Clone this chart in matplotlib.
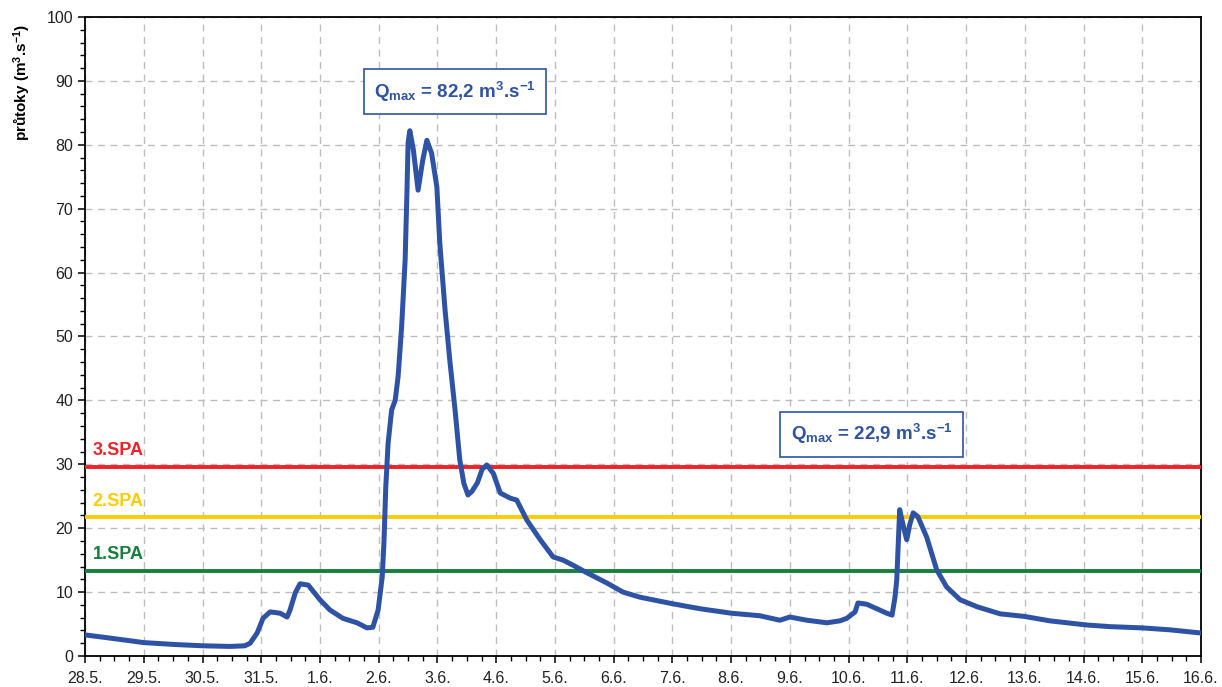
import matplotlib
matplotlib.use("Agg")
import matplotlib.pyplot as plt
from matplotlib.ticker import MultipleLocator, FixedLocator

plt.rcParams['font.family'] = ['Liberation Sans', 'DejaVu Sans']
plt.rcParams['mathtext.fontset'] = 'custom'
plt.rcParams['mathtext.rm'] = 'Liberation Sans'
plt.rcParams['mathtext.bf'] = 'Liberation Sans:bold'
plt.rcParams['mathtext.it'] = 'Liberation Sans:italic'

# Time in days counted from 28.5. 0:00, discharge in m3/s
days = [0.00, 0.26, 0.51, 1.00, 1.53, 2.01, 2.47, 2.72, 2.81, 2.93,
        3.03, 3.15, 3.32, 3.44, 3.49, 3.58, 3.66, 3.80, 4.00, 4.17,
        4.39, 4.63, 4.80, 4.90, 4.99, 5.06, 5.09, 5.12, 5.16, 5.22,
        5.28, 5.33, 5.39, 5.45, 5.48, 5.50, 5.53, 5.59, 5.67, 5.75,
        5.82, 5.90, 5.99, 6.04, 6.13, 6.21, 6.30, 6.38, 6.45, 6.52,
        6.59, 6.68, 6.76, 6.84, 6.95, 7.07, 7.24, 7.35, 7.52, 7.75,
        7.97, 8.14, 8.31, 8.55, 8.89, 9.16, 9.45, 9.99, 10.47, 11.00,
        11.49, 11.83, 12.00, 12.29, 12.63, 12.85, 12.97, 13.11, 13.16, 13.31,
        13.65, 13.74, 13.79, 13.82, 13.87, 13.94, 13.99, 14.04, 14.10, 14.18,
        14.33, 14.50, 14.67, 14.90, 15.19, 15.58, 15.99, 16.43, 17.06, 17.45,
        18.00, 18.47, 19.00]
flow = [3.3, 3.0, 2.7, 2.1, 1.8, 1.6, 1.5, 1.6, 2.0, 3.6,
        5.9, 6.9, 6.7, 6.1, 7.2, 9.9, 11.3, 11.1, 8.8, 7.2,
        5.9, 5.2, 4.4, 4.5, 7.2, 12.4, 18.0, 26.4, 33.3, 38.5,
        40.0, 43.7, 51.5, 62.0, 72.4, 80.3, 82.2, 79.2, 72.9, 77.6,
        80.7, 78.7, 73.4, 64.6, 54.1, 46.3, 38.5, 30.7, 27.0, 25.2,
        25.8, 27.1, 29.2, 29.9, 28.6, 25.5, 24.7, 24.4, 21.3, 18.2,
        15.5, 15.0, 14.2, 13.0, 11.4, 10.0, 9.2, 8.2, 7.4, 6.7,
        6.3, 5.6, 6.1, 5.6, 5.2, 5.5, 5.9, 6.9, 8.3, 8.1,
        6.7, 6.4, 9.2, 11.9, 22.9, 20.0, 18.2, 20.5, 22.4, 21.8,
        18.6, 13.5, 10.8, 8.8, 7.7, 6.6, 6.2, 5.5, 4.85, 4.6,
        4.4, 4.1, 3.6]

date_labels = ["28.5.", "29.5.", "30.5.", "31.5.", "1.6.", "2.6.", "3.6.",
               "4.6.", "5.6.", "6.6.", "7.6.", "8.6.", "9.6.", "10.6.",
               "11.6.", "12.6.", "13.6.", "14.6.", "15.6.", "16.6."]

spa_names = ["3.SPA", "2.SPA", "1.SPA"]
spa_levels = [29.6, 21.7, 13.35]
spa_colors = ["#EE2229", "#FFCC00", "#16803C"]

peak_values = ["82,2", "22,9"]
peak_label_pos = [(6.30, 88.3), (13.39, 34.7)]

line_blue = "#2F53A4"

fig = plt.figure(figsize=(12.22, 6.87), dpi=100)
ax = fig.add_axes([0.0696, 0.0451, 0.9132, 0.9302])

ax.set_xlim(0, len(date_labels) - 1)
ax.set_ylim(0, 100)

ax.xaxis.set_major_locator(FixedLocator(range(len(date_labels))))
ax.set_xticklabels(date_labels)
ax.xaxis.set_minor_locator(MultipleLocator(0.25))
ax.yaxis.set_major_locator(MultipleLocator(10))
ax.yaxis.set_minor_locator(MultipleLocator(2))

ax.grid(True, which='major', color='#BDBDBD', linestyle=(0, (5, 4)), linewidth=1.0)
ax.set_axisbelow(True)

ax.tick_params(axis='both', which='major', direction='out', length=5, width=1.1,
               labelsize=11.5, color='black', labelcolor='#222222')
ax.tick_params(axis='both', which='minor', direction='out', length=3.5, width=1.0)
ax.tick_params(axis='x', which='major', pad=6)
for s in ax.spines.values():
    s.set_linewidth(1.3)
    s.set_color('black')

# Flood activity levels
for name, lvl, col in zip(spa_names, spa_levels, spa_colors):
    ax.axhline(lvl, color=col, linewidth=2.8, zorder=3)
    ax.text(0.13, lvl + 1.2, name, color=col, fontsize=13, fontweight='bold',
            ha='left', va='bottom', zorder=4)

ax.plot(days, flow, color=line_blue, linewidth=3.6, solid_joinstyle='round',
        solid_capstyle='round', zorder=5)

for val, (px, py) in zip(peak_values, peak_label_pos):
    ax.text(px, py,
            r"Q$_{\mathbf{max}}$ = " + val + r" m$^{\mathbf{3}}$.s$^{\mathbf{-1}}$",
            color=line_blue, fontsize=13.5, fontweight='bold', ha='center', va='center',
            zorder=6,
            bbox=dict(boxstyle='square,pad=0.55', facecolor='white',
                      edgecolor=line_blue, linewidth=1.2))

ax.set_ylabel("průtoky (m$^{\\mathbf{3}}$.s$^{\\mathbf{-1}}$)", fontsize=11,
              fontweight='bold')
ax.yaxis.set_label_coords(-0.047, 0.898)

fig.savefig("out.png", dpi=100)
